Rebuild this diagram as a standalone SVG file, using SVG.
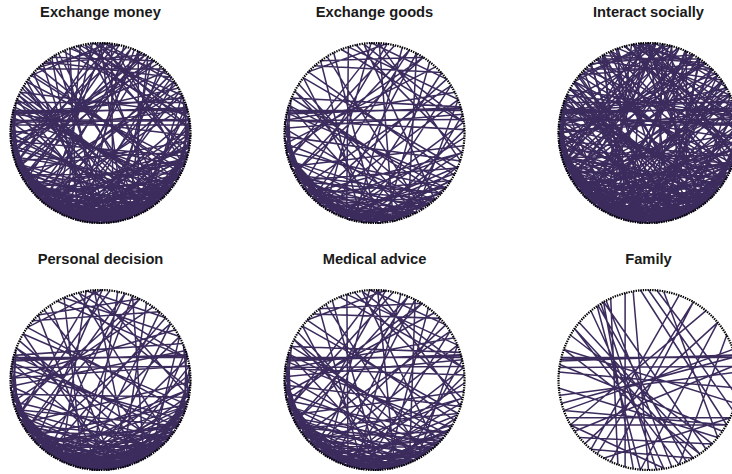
<svg xmlns="http://www.w3.org/2000/svg" xmlns:xlink="http://www.w3.org/1999/xlink" width="732" height="474" viewBox="0 0 732 474">
<style>
.title{font-family:"Liberation Sans",Arial,Helvetica,sans-serif;font-weight:bold;font-size:14.7px;fill:#1a1a1a;text-anchor:middle}
.e{fill:none;stroke:#3c2c5e;stroke-width:1.7}
.ring{fill:none;stroke:#000;stroke-width:2.2;stroke-dasharray:1.4 1}
</style>
<defs>
<path id="A" class="e" d="M-94 -34L77 64M-91 -42L64 77M-97 -26L82 57M-87 -50L50 87M-82 -57L94 34M-98 -17L87 50M-9 -100L-50 87M0 -100L26 97M9 -100L-77 64M-17 -98L71 71M17 -98L-94 34M26 -97L-17 98M-26 -97L98 17M50 -87L-87 50M64 -77L-98 17M77 -64L-64 77M87 -50L-100 -9M94 -34L-94 -34M98 -17L-34 94M100 9L-91 42M97 26L-100 9M91 42L-77 -64M-57 -82L57 82M-50 -87L9 100M-42 -91L98 -17M-34 -94L91 -42M-71 -71L71 -71M-64 -77L50 -87M-100 0L97 -26M-100 -9L100 -9M-97 26L50 -87M-94 34L0 -100M-87 50L34 -94M-77 64L82 -57M-71 71L98 17M-57 82L91 -42M-42 91L42 -91M-26 97L-34 -94M-9 100L-64 -77M9 100L-82 -57M26 97L-97 -26M42 91L-91 -42M57 82L-100 0M71 71L-98 17M82 57L-97 26M94 34L-82 57M98 17L-57 82M100 0L-34 94M100 -9L0 100M97 -26L34 94M91 -42L50 87M82 -57L-9 100M71 -71L-26 97M57 -82L17 98M42 -91L42 91M34 -94L-64 77M9 -100L-77 -64M-9 -100L77 -64M-17 -98L98 -17M0 -100L97 26"/>
<path id="B" class="e" d="M-17 98L50 87M-34 94L64 77M-50 87L34 94M-64 77L71 71M-77 64L17 98M-87 50L57 82M-91 42L0 100M-94 34L42 91M-82 57L77 64M-71 71L9 100M-57 82L50 87M-42 91L26 97M-26 97L77 64M-9 100L87 50M-97 26L-26 97M-98 17L-50 87M-100 9L-71 71M-94 34L-34 94M-87 50L-17 98M-77 64L-9 100M-64 77L34 94M-50 87L82 57M-34 94L94 34M9 100L71 71M17 98L-57 82M26 97L-87 50M42 91L-77 64M57 82L-42 91M64 77L-94 34M71 71L-64 77M34 94L-26 97M50 87L-82 57M0 100L-71 71M-17 98L-87 50M-42 91L-97 26M-57 82L-98 17M-71 71L-100 0M-82 57L-100 -9M-91 42L-97 -26M-97 26L-94 -34"/>
<path id="C" class="e" d="M-97 -25L97 -25M-97 -23L97 -27M-98 -21L96 -28M-99 -14L99 -15"/>
<path id="F" class="e" d="M-57 -82L-9 100M-53 -85L9 100M-50 -87L-17 98M-47 -88L26 97M-42 -91L-34 94M-56 -83L42 91M-50 -87L64 77M-9 -100L87 50M0 -100L94 34M17 -98L77 64M9 -100L98 17M34 -94L-64 77M50 -87L-42 91M64 -77L-87 50M-100 -9L100 9M-94 -34L97 26M-97 26L97 -26M-94 34L94 -34M-98 17L100 -9M-98 -17L82 57M-87 -50L71 71M-82 -57L50 87M-77 -64L57 82M-77 64L71 71M-64 77L50 87M-50 87L91 42M-87 50L17 98M-82 57L98 -17M-71 71L77 -64M-57 82L50 -87M-26 97L-26 -97M0 100L-17 -98M17 98L-64 -77M34 94L-82 -57M57 82L-94 -34M77 64L-100 9M87 50L-94 34M87 -50L34 94M77 -64L-9 100M-87 50L87 50M-91 42L91 42"/>
</defs>

<g id="plot-exchange-money">
<text class="title" x="100.5" y="17">Exchange money</text>
<g class="connectors" transform="translate(100.5,133) scale(0.9)">
<use xlink:href="#A"/>
<use xlink:href="#A" transform="rotate(7)"/>
<use xlink:href="#B"/>
<use xlink:href="#B" transform="rotate(-6)"/>
<use xlink:href="#B" transform="scale(-1,1) rotate(4)"/>
<use xlink:href="#C"/>
</g>
<circle class="ring" cx="100.5" cy="133" r="90"/>
</g>

<g id="plot-exchange-goods">
<text class="title" x="374.5" y="17">Exchange goods</text>
<g class="connectors" transform="translate(374.5,133) scale(0.9)">
<use xlink:href="#A" transform="rotate(3)"/>
<use xlink:href="#B" transform="rotate(2)"/>
<use xlink:href="#B" transform="rotate(-8)"/>
<use xlink:href="#C"/>
</g>
<circle class="ring" cx="374.5" cy="133" r="90"/>
</g>

<g id="plot-interact-socially">
<text class="title" x="648.5" y="17">Interact socially</text>
<g class="connectors" transform="translate(648.5,133) scale(0.9)">
<use xlink:href="#A"/>
<use xlink:href="#A" transform="rotate(9)"/>
<use xlink:href="#A" transform="scale(-1,1) rotate(5)"/>
<use xlink:href="#B"/>
<use xlink:href="#B" transform="rotate(6)"/>
<use xlink:href="#B" transform="scale(-1,1)"/>
<use xlink:href="#C"/>
</g>
<circle class="ring" cx="648.5" cy="133" r="90"/>
</g>

<g id="plot-personal-decision">
<text class="title" x="100.5" y="263.5">Personal decision</text>
<g class="connectors" transform="translate(100.5,380) scale(0.9)">
<use xlink:href="#A" transform="rotate(-4)"/>
<use xlink:href="#B"/>
<use xlink:href="#B" transform="rotate(-10)"/>
<use xlink:href="#B" transform="scale(-1,1) rotate(3)"/>
<use xlink:href="#C"/>
</g>
<circle class="ring" cx="100.5" cy="380" r="90"/>
</g>

<g id="plot-medical-advice">
<text class="title" x="374.5" y="263.5">Medical advice</text>
<g class="connectors" transform="translate(374.5,380) scale(0.9)">
<use xlink:href="#A" transform="rotate(2)"/>
<use xlink:href="#B" transform="rotate(3)"/>
<use xlink:href="#B" transform="rotate(-5)"/>
<use xlink:href="#C"/>
</g>
<circle class="ring" cx="374.5" cy="380" r="90"/>
</g>

<g id="plot-family">
<text class="title" x="648.5" y="263.5">Family</text>
<g class="connectors" transform="translate(648.5,380) scale(0.9)">
<use xlink:href="#F"/>
<use xlink:href="#C"/>
</g>
<circle class="ring" cx="648.5" cy="380" r="90"/>
</g>
</svg>
